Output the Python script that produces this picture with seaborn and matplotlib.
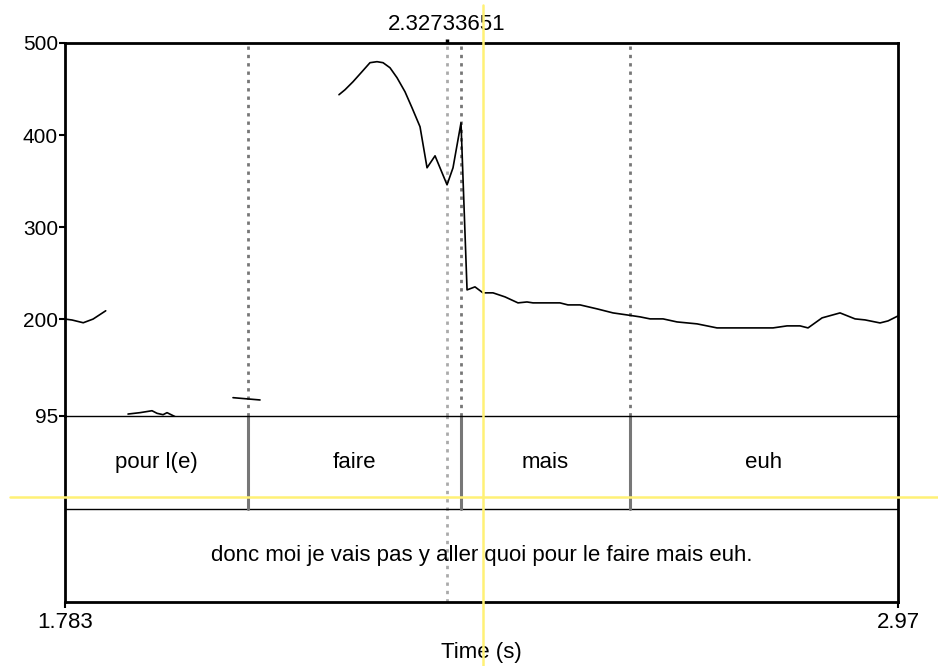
import numpy as np
import pandas as pd
import matplotlib
matplotlib.use("Agg")
import matplotlib.pyplot as plt
import seaborn as sns

# ---------------- data ----------------
t_start, t_end = 1.783, 2.97
hz_min, hz_max = 95, 500
hz_ticks = [95, 200, 300, 400, 500]
time_ticks = [1.783, 2.97]
time_tick_labels = ["1.783", "2.97"]

seg1_time = [1.783, 1.793, 1.809, 1.823, 1.841]
seg1_hz = [200, 199, 196, 200, 209]

seg2_time = [1.8728, 1.8899, 1.907, 1.9141, 1.9227, 1.9284, 1.9398]
seg2_hz = [96.8, 98.3, 100.4, 97.6, 96.1, 98.3, 94.0]

seg3_time = [2.0224, 2.0438, 2.0609]
seg3_hz = [114.6, 113.2, 112.1]

seg4_time = [2.1734, 2.182, 2.1934, 2.2062, 2.2176, 2.2276, 2.2362, 2.2461,
             2.2561, 2.2675, 2.2775, 2.2889, 2.2989, 2.3103, 2.3274, 2.3359,
             2.3473, 2.3559, 2.3672, 2.3786, 2.3929, 2.41, 2.4285, 2.4413,
             2.4499, 2.4883, 2.4997, 2.5169, 2.5411, 2.5639, 2.5839, 2.6024,
             2.6167, 2.6352, 2.6551, 2.6836, 2.7121, 2.7449, 2.7919, 2.8119,
             2.8304, 2.8418, 2.8618, 2.8874, 2.9088, 2.923, 2.9444, 2.9558,
             2.97]
seg4_hz = [443.8, 449.2, 457.9, 468.8, 478.6, 479.7, 478.6, 473.1,
           462.3, 447.0, 429.6, 409.0, 364.4, 377.4, 345.9, 364.4,
           413.3, 231.7, 235.0, 228.5, 228.5, 224.1, 217.6, 218.6,
           217.6, 217.6, 215.4, 215.4, 211.1, 206.7, 204.5, 202.4,
           200.2, 200.2, 196.9, 194.8, 190.4, 190.4, 190.4, 192.6,
           192.6, 190.4, 201.3, 206.7, 200.2, 199.1, 195.8, 198.0,
           203.4]

boundaries = [2.0438, 2.3473, 2.588]
words = ["pour l(e)", "faire", "mais", "euh"]
sentence = "donc moi je vais pas y aller quoi pour le faire mais euh."
marker_time = 2.32733651
marker_label = "2.32733651"
cursor_time = 2.3786

# ---------------- build table ----------------
frames = []
for i, (t, h) in enumerate([(seg1_time, seg1_hz), (seg2_time, seg2_hz),
                            (seg3_time, seg3_hz), (seg4_time, seg4_hz)]):
    frames.append(pd.DataFrame({"time": t, "hz": h, "segment": i}))
pitch = pd.concat(frames, ignore_index=True)

# ---------------- style ----------------
sns.set_style("white")
plt.rcParams['font.family'] = ['Liberation Sans', 'DejaVu Sans']
plt.rcParams['text.color'] = 'black'
plt.rcParams['xtick.color'] = 'black'
plt.rcParams['ytick.color'] = 'black'
plt.rcParams['axes.labelcolor'] = 'black'
FS = 16
FS_Y = 15

W, H = 938, 666
left, right = 65, 898
top, mid, bottom = 43, 415.7, 602

fig = plt.figure(figsize=(W / 100, H / 100), dpi=100)
ax_t = fig.add_axes([left / W, (H - bottom) / H, (right - left) / W, (bottom - mid) / H])
ax_p = fig.add_axes([left / W, (H - mid) / H, (right - left) / W, (mid - top) / H])
ax_t.patch.set_visible(False)
ax_p.patch.set_visible(False)

# pitch
sns.lineplot(data=pitch, x="time", y="hz", units="segment", estimator=None,
             color="black", linewidth=1.2, ax=ax_p, legend=False, sort=False)
ax_p.set_xlim(t_start, t_end)
ax_p.set_ylim(hz_min, hz_max)
ax_p.set_yticks(hz_ticks)
ax_p.set_yticklabels([str(v) for v in hz_ticks], fontsize=FS_Y)
ax_p.set_xticks([])
ax_p.set_xlabel("")
ax_p.set_ylabel("")
ax_p.tick_params(axis="y", direction="out", length=4, width=1.5, pad=1, left=True)
for s in ["left", "top", "right"]:
    ax_p.spines[s].set_linewidth(2.0)
    ax_p.spines[s].set_color("black")
ax_p.spines["bottom"].set_linewidth(1.0)
ax_p.spines["bottom"].set_color("black")

# dotted boundaries in pitch area
for b in boundaries:
    ax_p.axvline(b, color="#777777", linestyle=(0, (1.2, 1.8)), linewidth=2.0, zorder=1)
ax_p.axvline(marker_time, color="#aaaaaa", linestyle=(0, (1.2, 1.8)), linewidth=2.0, zorder=1)

# top marker tick + label
sec = ax_p.secondary_xaxis("top")
sec.set_xticks([marker_time])
sec.set_xticklabels([marker_label], fontsize=FS)
sec.tick_params(direction="out", length=3, width=2.5, pad=3, colors="black")
sec.spines["top"].set_visible(False)

# tiers
ax_t.set_xlim(t_start, t_end)
ax_t.set_ylim(0, 2)
ax_t.set_yticks([])
ax_t.set_xticks(time_ticks)
ax_t.set_xticklabels(time_tick_labels, fontsize=FS)
ax_t.tick_params(axis="x", direction="out", length=4, width=1.5, pad=3, bottom=True)
ax_t.set_xlabel("Time (s)", fontsize=FS, labelpad=7)
ax_t.spines["top"].set_visible(False)
for s in ["left", "right", "bottom"]:
    ax_t.spines[s].set_linewidth(2.0)
    ax_t.spines[s].set_color("black")
ax_t.axhline(1.0, color="black", linewidth=1.0)
for b in boundaries:
    ax_t.axvline(b, ymin=0.5, ymax=1.0, color="#777777", linewidth=2.2)
ax_t.axvline(marker_time, color="#aaaaaa", linestyle=(0, (1.2, 1.8)), linewidth=2.0, zorder=1)

edges = [t_start] + boundaries + [t_end]
for i, w in enumerate(words):
    ax_t.text((edges[i] + edges[i + 1]) / 2, 1.5, w, ha="center", va="center", fontsize=FS)
ax_t.text((t_start + t_end) / 2, 0.5, sentence, ha="center", va="center", fontsize=FS)

# yellow cursor lines
yellow = "#fff176"
ph = mid - top
ax_p.axvline(cursor_time, ymin=-(H - mid) / ph, ymax=1 + (top - 5) / ph,
             color=yellow, linewidth=1.8, clip_on=False, zorder=5)
th = bottom - mid
cursor_y = 2 * (bottom - 497) / th
ax_t.axhline(cursor_y, xmin=(10 - left) / (right - left), xmax=(W - left) / (right - left),
             color=yellow, linewidth=1.8, clip_on=False, zorder=5)

fig.savefig("out.png", dpi=100)
